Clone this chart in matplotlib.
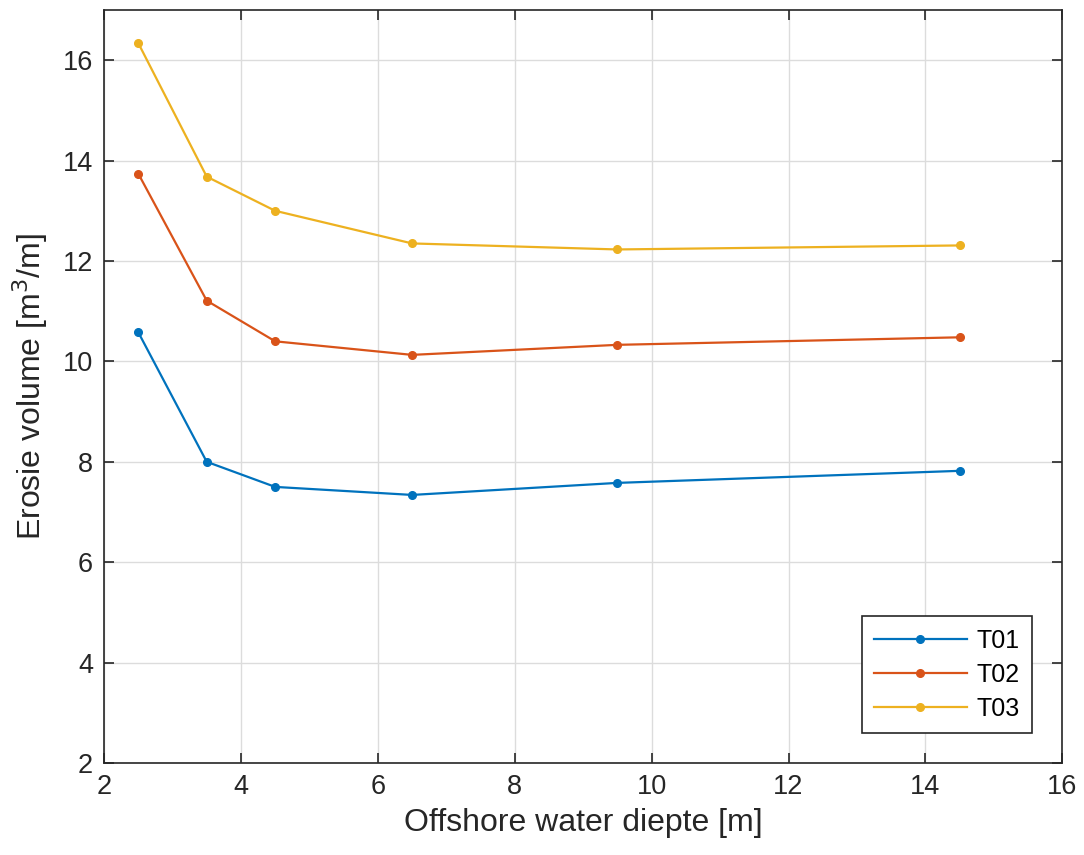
import matplotlib
matplotlib.use("Agg")
import matplotlib.pyplot as plt

depth = [2.5, 3.5, 4.5, 6.5, 9.5, 14.5]
t01 = [10.58, 8.0, 7.5, 7.34, 7.58, 7.82]
t02 = [13.74, 11.21, 10.40, 10.13, 10.33, 10.48]
t03 = [16.34, 13.68, 13.0, 12.35, 12.23, 12.31]
names = ["T01", "T02", "T03"]
colors = ["#0072BD", "#D95319", "#EDB120"]

plt.rcParams["font.family"] = ["Liberation Sans", "DejaVu Sans"]

fig = plt.figure(figsize=(10.84, 8.55), dpi=100)
ax = fig.add_axes([0.096, 0.1076, 0.884, 0.8807])

for ys, name, c in zip([t01, t02, t03], names, colors):
    ax.plot(depth, ys, color=c, marker="o", markersize=5.5, linewidth=1.6, label=name)

ax.set_xlim(2, 16)
ax.set_ylim(2, 17)
ax.set_xticks(range(2, 17, 2))
ax.set_yticks(range(2, 17, 2))
ax.grid(True, color="#dcdcdc", linewidth=1)
ax.set_axisbelow(True)
ax.tick_params(direction="in", length=7, width=1.2, colors="#262626", labelsize=19.5,
               top=True, right=True, pad=8)
for s in ax.spines.values():
    s.set_color("#262626")
    s.set_linewidth(1.2)

ax.set_xlabel("Offshore water diepte [m]", fontsize=23, color="#262626", labelpad=6)
ax.set_ylabel("Erosie volume [m$^3$/m]", fontsize=23, color="#262626", labelpad=9)

leg = ax.legend(loc="lower right", fontsize=18, fancybox=False, framealpha=1,
                edgecolor="#262626", handlelength=3.7, handletextpad=0.4,
                borderaxespad=1.2, labelspacing=0.4, borderpad=0.5)
leg.get_frame().set_linewidth(1.2)

fig.savefig("out.png", dpi=100)
